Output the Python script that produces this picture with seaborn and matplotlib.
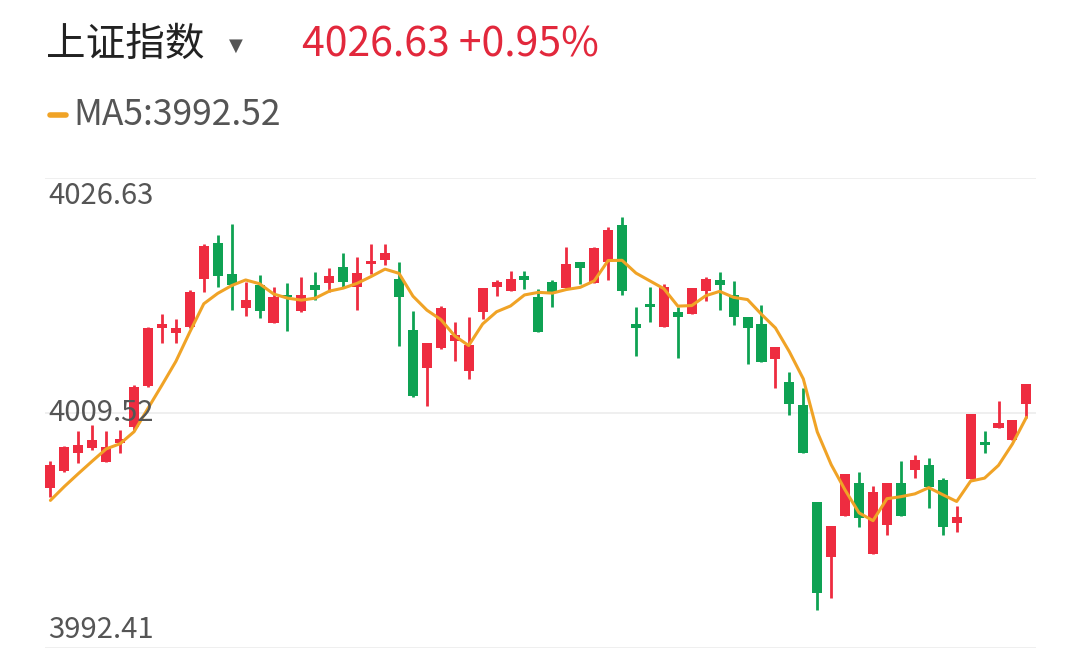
import numpy as np
import pandas as pd
import matplotlib.pyplot as plt
import seaborn as sns

# daily candles (open, high, low, close)
opens = [4004.06, 4005.30, 4006.61, 4006.98, 4005.96, 4007.34, 4008.50, 4011.49, 4015.71, 4015.35,
         4015.78, 4019.28, 4021.90, 4019.64, 4017.17, 4018.84, 4016.08, 4018.11, 4016.95, 4018.84,
         4018.99, 4020.15, 4018.70, 4020.37, 4020.66, 4019.28, 4015.57, 4012.80, 4014.26, 4014.77,
         4012.58, 4016.88, 4018.70, 4018.41, 4019.50, 4017.97, 4019.06, 4018.62, 4020.52, 4018.99,
         4020.52, 4023.21, 4016.00, 4017.46, 4015.78, 4016.88, 4016.73, 4018.41, 4019.21, 4018.11,
         4016.51, 4016.00, 4013.45, 4011.78, 4010.11, 4003.04, 3999.04, 4002.03, 4004.43, 3999.26,
         4001.37, 4004.43, 4005.37, 4005.74, 4004.65, 4001.52, 4004.72, 4007.41, 4008.43, 4007.56,
         4010.18]
highs = [4006.03, 4007.12, 4008.21, 4008.65, 4008.21, 4008.29, 4011.56, 4015.78, 4016.73, 4016.37,
         4018.48, 4021.83, 4022.48, 4023.28, 4019.06, 4019.57, 4018.70, 4018.99, 4019.42, 4019.79,
         4020.08, 4021.17, 4020.88, 4021.83, 4021.83, 4020.52, 4016.95, 4014.62, 4017.31, 4016.15,
         4016.51, 4018.62, 4019.21, 4019.86, 4019.86, 4018.55, 4019.21, 4021.61, 4020.52, 4021.61,
         4023.06, 4023.79, 4017.24, 4018.70, 4018.91, 4017.24, 4018.62, 4019.42, 4019.79, 4019.13,
         4016.51, 4017.39, 4014.33, 4012.51, 4011.34, 4003.04, 4001.30, 4005.08, 4005.23, 4004.21,
         4004.43, 4006.03, 4006.47, 4006.25, 4004.79, 4002.75, 4009.45, 4008.21, 4010.40, 4009.01,
         4011.63]
lows = [4003.41, 4005.23, 4005.88, 4006.83, 4005.96, 4006.61, 4008.29, 4011.42, 4014.62, 4014.62,
        4015.71, 4018.33, 4018.70, 4017.02, 4016.59, 4016.44, 4016.08, 4015.49, 4016.88, 4017.75,
        4018.33, 4018.70, 4017.02, 4019.64, 4020.30, 4014.40, 4010.69, 4010.03, 4014.18, 4013.31,
        4012.00, 4016.37, 4018.04, 4018.41, 4018.55, 4015.42, 4017.24, 4018.62, 4018.91, 4018.99,
        4019.21, 4018.11, 4013.67, 4016.15, 4015.78, 4013.53, 4016.73, 4017.68, 4017.02, 4015.93,
        4013.09, 4013.24, 4011.34, 4009.38, 4006.61, 3995.18, 3996.06, 4002.03, 4001.22, 3999.26,
        4000.64, 4002.03, 4004.79, 4002.61, 4000.64, 4000.86, 4004.72, 4006.61, 4008.43, 4007.56,
        4009.16]
closes = [4005.74, 4007.05, 4007.19, 4007.56, 4007.05, 4007.63, 4011.42, 4015.71, 4016.00, 4015.71,
          4018.33, 4021.68, 4019.50, 4018.84, 4017.75, 4016.95, 4017.97, 4017.97, 4018.11, 4018.48,
          4019.50, 4019.06, 4019.72, 4020.59, 4021.17, 4017.97, 4010.76, 4014.62, 4017.17, 4015.20,
          4014.47, 4018.62, 4019.06, 4019.28, 4019.21, 4015.42, 4018.33, 4020.37, 4020.08, 4021.54,
          4022.85, 4018.41, 4015.71, 4017.24, 4018.70, 4016.51, 4018.62, 4019.28, 4018.84, 4016.51,
          4015.71, 4013.24, 4014.33, 4010.18, 4006.61, 3996.42, 4001.30, 4005.08, 4001.88, 4003.77,
          4004.43, 4002.03, 4006.10, 4004.14, 4001.22, 4001.95, 4009.45, 4007.19, 4008.80, 4009.01,
          4011.63]
# closes of the four sessions before the window, needed to seed MA5
prior_closes = [4002.0, 4002.5, 4003.0, 4002.6]

y_ticks = [3992.41, 4009.52, 4026.63]

RED = '#ee2c40'
GREEN = '#0ea253'
ORANGE = '#f0a326'

df = pd.DataFrame({'open': opens, 'high': highs, 'low': lows, 'close': closes})
df['idx'] = np.arange(len(df))
ma = pd.Series(prior_closes + closes).rolling(5).mean().iloc[len(prior_closes):].to_numpy()
df['ma5'] = ma

sns.set_theme(style='white')
plt.rcParams['font.family'] = ['Noto Sans CJK SC', 'DejaVu Sans']

fig = plt.figure(figsize=(10.81, 6.6), dpi=100)
ax = fig.add_axes([0.042, 0.018, 0.916, 0.712])

for _, r in df.iterrows():
    up = r['close'] >= r['open']
    c = RED if up else GREEN
    ax.vlines(r['idx'], r['low'], r['high'], color=c, linewidth=2, zorder=2)
    lo, hi = sorted([r['open'], r['close']])
    ax.bar(r['idx'], max(hi - lo, 0.12), bottom=lo, width=0.72, color=c,
           linewidth=0, zorder=2)

sns.lineplot(data=df, x='idx', y='ma5', color=ORANGE, linewidth=2.2, ax=ax, zorder=3)

ax.set_xlim(-0.36, 70.66)
ax.set_ylim(y_ticks[0], y_ticks[-1])
for v in y_ticks:
    ax.axhline(v, color='#ececec', linewidth=1.2, zorder=1)
ax.set_xticks([])
ax.set_yticks([])
ax.set_xlabel('')
ax.set_ylabel('')
for s in ax.spines.values():
    s.set_visible(False)

lab = dict(color='#555555', fontsize=21, transform=ax.get_yaxis_transform())
ax.text(0.003, y_ticks[2] - 0.2, f'{y_ticks[2]:.2f}', va='top', ha='left', **lab)
ax.text(0.003, y_ticks[1], f'{y_ticks[1]:.2f}', va='center', ha='left', **lab)
ax.text(0.003, y_ticks[0] + 0.2, f'{y_ticks[0]:.2f}', va='bottom', ha='left', **lab)

fig.text(0.043, 0.932, '上证指数', fontsize=28.5, color='#222222', va='center', ha='left')
fig.text(0.218, 0.930, '▼', fontsize=13, color='#555555', va='center', ha='center',
         family=['DejaVu Sans'])
fig.text(0.279, 0.932, '4026.63 +0.95%', fontsize=29.5, color='#e2283c', va='center',
         ha='left', fontweight='medium')
fig.lines.append(plt.Line2D([0.046, 0.061], [0.826, 0.826], transform=fig.transFigure,
                            color=ORANGE, linewidth=4, solid_capstyle='round'))
fig.text(0.068, 0.826, 'MA5:3992.52', fontsize=25.5, color='#555555', va='center', ha='left')

fig.savefig('out.png', dpi=100, facecolor='white')
